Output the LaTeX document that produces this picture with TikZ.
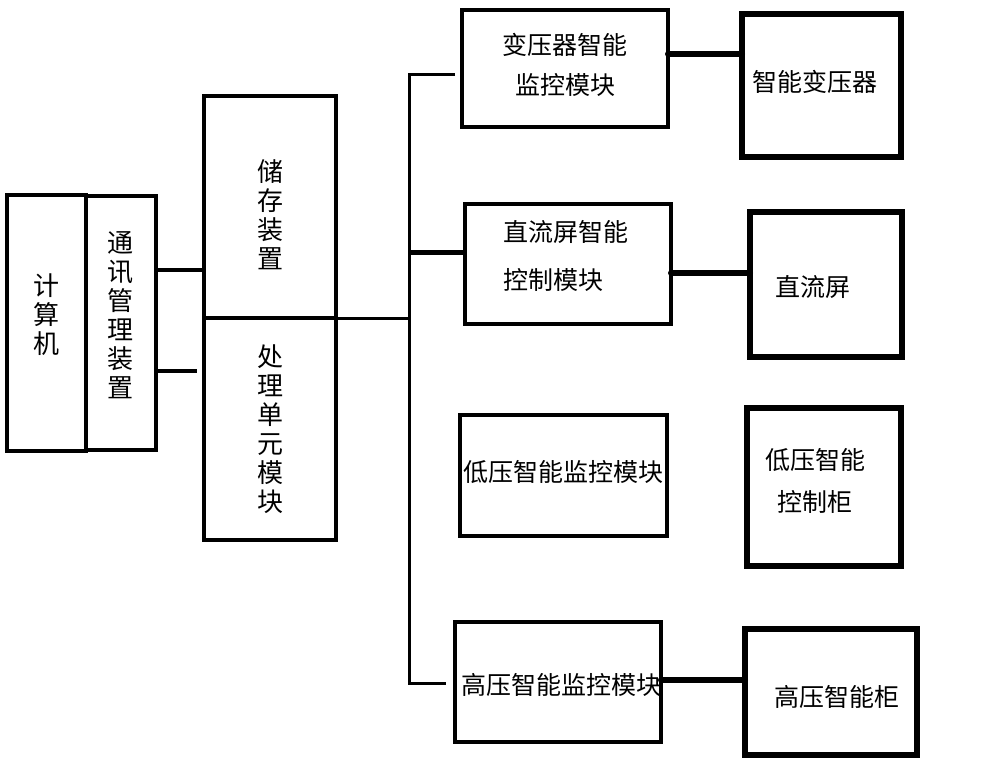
\documentclass[tikz,border=0pt]{standalone}
\usepackage{fontspec}
\newfontfamily\cjk{Noto Sans CJK SC}
\begin{document}
\begin{tikzpicture}[x=1pt,y=-1pt,
  box/.style={draw, line width=4pt, rectangle, inner sep=0pt, outer sep=0pt},
  bbox/.style={box, line width=6pt},
  txt/.style={inner sep=0pt, font=\cjk\fontsize{25}{40}\selectfont, align=center},
  vtxt/.style={inner sep=0pt, font=\cjk\fontsize{26}{29}\selectfont, align=center},
  wire/.style={line width=3pt},
  bwire/.style={line width=6pt, line cap=round}]
\useasboundingbox[fill=white] (0,0) rectangle (1000,762);

% left column
\node[box, line width=4.5pt, minimum width=79pt, minimum height=256pt] (pc) at (46.5,323) {};
\node[vtxt] (pcT) at ([yshift=8pt]pc.center) {计\\算\\机};
\node[box, minimum width=70pt, minimum height=254pt] (comm) at (121,323) {};
\node[vtxt] (commT) at ([xshift=-1pt,yshift=8pt]comm.center) {通\\讯\\管\\理\\装\\置};
\node[box, line width=3.5pt, minimum width=132pt, minimum height=222pt] (store) at (270,207) {};
\node[vtxt] (storeT) at ([yshift=-8pt]store.center) {储\\存\\装\\置};
\node[box, line width=3.5pt, minimum width=132pt, minimum height=222pt] (proc) at (270,429) {};
\node[vtxt] (procT) at (proc.center) {处\\理\\单\\元\\模\\块};

% middle column
\node[box, minimum width=206pt, minimum height=117pt] (trm) at (565,68.5) {};
\node[txt] (trmT) at ([yshift=3.5pt]trm.center) {变压器智能\\监控模块};
\node[box, minimum width=206pt, minimum height=120pt] (dcm) at (568,264) {};
\node[txt, align=left, font=\cjk\fontsize{25}{48}\selectfont] (dcmT) at ([xshift=-2pt,yshift=8pt]dcm.center) {直流屏智能\\控制模块};
\node[box, minimum width=207pt, minimum height=121pt] (lvm) at (563.5,475.5) {};
\node[txt] (lvmT) at ([yshift=3.5pt]lvm.center) {低压智能监控模块};
\node[box, minimum width=206pt, minimum height=120pt] (hvm) at (558,682) {};
\node[txt] (hvmT) at ([xshift=3pt,yshift=-3pt]hvm.center) {高压智能监控模块};

% right column
\node[bbox, minimum width=159pt, minimum height=143pt] (tr) at (821.5,85.5) {};
\node[txt] (trT) at ([xshift=-7pt,yshift=3.5pt]tr.center) {智能变压器};
\node[bbox, minimum width=152pt, minimum height=145pt] (dc) at (826,284.5) {};
\node[txt] (dcT) at ([xshift=-13pt,yshift=-2.5pt]dc.center) {直流屏};
\node[bbox, minimum width=154pt, minimum height=158pt] (lv) at (824,487) {};
\node[txt, font=\cjk\fontsize{25}{42}\selectfont] (lvT) at ([xshift=-9pt,yshift=6pt]lv.center) {低压智能\\控制柜};
\node[bbox, minimum width=172pt, minimum height=126pt] (hv) at (831,692) {};
\node[txt] (hvT) at ([xshift=6pt,yshift=-5pt]hv.center) {高压智能柜};

% connectors
\coordinate (c1) at ([yshift=53pt]comm.east);
\draw[wire, line width=4pt] (c1) -- (c1 -| store.west);
\coordinate (c2) at ([yshift=-48pt]comm.east);
\coordinate (c2end) at (197,371);
\draw[wire, line width=4pt] (c2) -- (c2end);

\coordinate (busTop) at (409,75);
\coordinate (busBot) at (409,683);
\coordinate (trmIn) at (455,75);
\coordinate (busBotEnd) at (446,683);
\draw[wire] (trmIn) -- (busTop) -- (busBot) -- (busBotEnd);
\draw[wire] (store.south east) -- (store.south east -| busTop);
\coordinate (dcmIn) at ([yshift=12pt]dcm.west);
\draw[line width=5pt] (dcmIn) -- (dcmIn -| busTop);

\coordinate (t1) at ([yshift=14.5pt]trm.east);
\draw[bwire] (t1) -- (t1 -| tr.west);
\coordinate (d1) at ([yshift=-9pt]dcm.east);
\draw[bwire] (d1) -- (d1 -| dc.west);
\coordinate (h1) at ([yshift=2pt]hvm.east);
\draw[bwire] (h1) -- (h1 -| hv.west);
\end{tikzpicture}
\end{document}
